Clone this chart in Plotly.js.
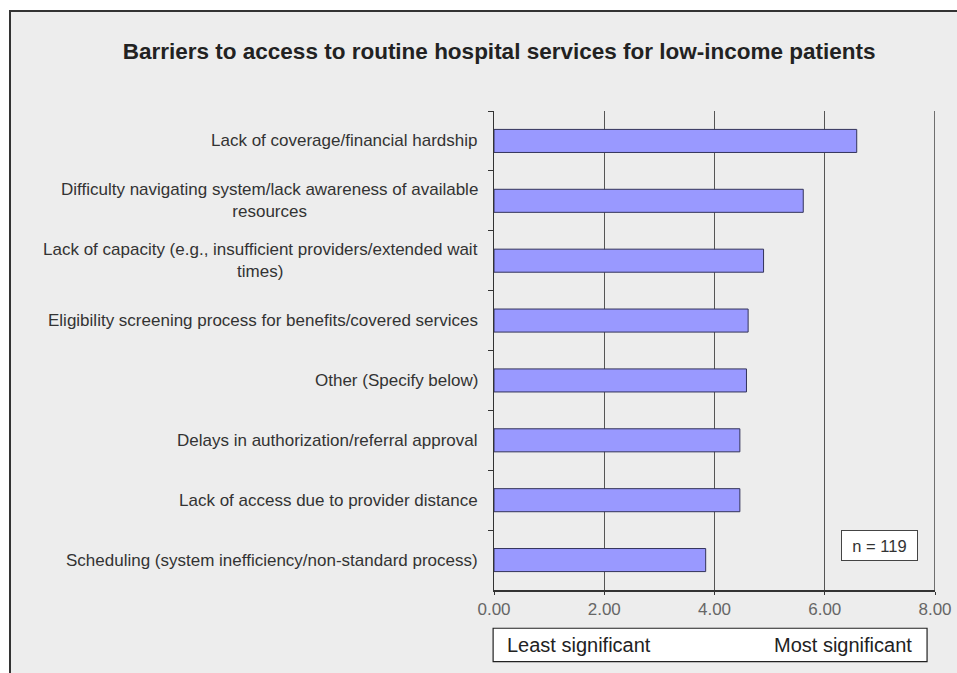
<!DOCTYPE html>
<html>
<head>
<meta charset="utf-8">
<script src="https://cdn.plot.ly/plotly-3.0.1.min.js"></script>
<style>
  html, body { margin: 0; padding: 0; background: #ffffff; width: 957px; height: 673px; overflow: hidden; }
  #frame { position: absolute; left: 9px; top: 10px; width: 946px; height: 661px;
           border-left: 2px solid #333; border-top: 2px solid #333; background: #EDEDED; }
  #chart { width: 946px; height: 661px; }
</style>
</head>
<body>
<div id="frame"><div id="chart"></div></div>
<script>
// Categories, top to bottom
const categories = [
  "Lack of coverage/financial hardship",
  "Difficulty navigating system/lack awareness of available<br>resources",
  "Lack of capacity (e.g., insufficient providers/extended wait<br>times)",
  "Eligibility screening process for benefits/covered services",
  "Other (Specify below)",
  "Delays in authorization/referral approval",
  "Lack of access due to provider distance",
  "Scheduling (system inefficiency/non-standard process)"
];
const values = [6.58, 5.61, 4.89, 4.61, 4.58, 4.46, 4.46, 3.84];
const xTickVals = [0, 2, 4, 6, 8];
const xTickText = ["0.00", "2.00", "4.00", "6.00", "8.00"];
const titleText = "Barriers to access to routine hospital services for low-income patients";
const sampleNote = "n = 119";
const scaleLabels = ["Least significant", "Most significant"];

const FONT = "'Liberation Sans', Arial, sans-serif";

const trace = {
  type: "bar",
  orientation: "h",
  y: categories,
  x: values,
  marker: { color: "#9999FF", line: { color: "#33335A", width: 1 } },
  hoverinfo: "x+y"
};

const labelAnnotations = categories.map(c => ({
  xref: "paper", yref: "y", x: 0, y: c, xanchor: "right", yanchor: "middle",
  xshift: -14, text: c, showarrow: false, align: "center",
  font: { family: FONT, size: 17, color: "#333" }
}));

const layout = {
  width: 946, height: 661,
  margin: { l: 483.3, r: 22.3, t: 98.7, b: 83 },
  paper_bgcolor: "#EDEDED",
  plot_bgcolor: "#EDEDED",
  showlegend: false,
  bargap: 0.615,
  font: { family: FONT, color: "#333" },
  title: {
    text: "<b>" + titleText + "</b>",
    xref: "container", yref: "container", x: 0.516, y: 0.941,
    xanchor: "center", yanchor: "middle",
    font: { family: FONT, size: 22.5, color: "#222" }
  },
  xaxis: {
    range: [0, 8], tickvals: xTickVals, ticktext: xTickText,
    showgrid: true, gridcolor: "#555", gridwidth: 1.2,
    zeroline: false, showline: true, linecolor: "#333", linewidth: 1.5,
    ticks: "outside", ticklen: 3, tickcolor: "#333",
    tickfont: { family: FONT, size: 17, color: "#666" },
    fixedrange: true
  },
  yaxis: {
    type: "category", autorange: "reversed",
    showgrid: false, zeroline: false, showline: true, linecolor: "#333", linewidth: 1.5,
    ticks: "outside", ticklen: 5, tickcolor: "#333", tickson: "boundaries",
    showticklabels: false, fixedrange: true
  },
  shapes: [
    { type: "line", xref: "x", yref: "paper", x0: 8, x1: 8, y0: 0, y1: 1,
      line: { color: "#444", width: 1.5 } },
    { type: "rect", xref: "paper", yref: "paper", x0: -0.002, x1: 0.982, y0: -0.1496, y1: -0.0799,
      fillcolor: "#ffffff", line: { color: "#222", width: 1.2 } }
  ],
  annotations: labelAnnotations.concat([
    { xref: "paper", yref: "paper", x: 0.875, y: 0.0939, xanchor: "center", yanchor: "middle",
      text: sampleNote, showarrow: false, bgcolor: "#ffffff", bordercolor: "#444", borderwidth: 1,
      borderpad: 0, width: 75, height: 29,
      font: { family: FONT, size: 16.5, color: "#333" } },
    { xref: "paper", yref: "paper", x: 0.0243, y: -0.1148, xanchor: "left", yanchor: "middle",
      text: scaleLabels[0], showarrow: false, font: { family: FONT, size: 20, color: "#222" } },
    { xref: "paper", yref: "paper", x: 0.953, y: -0.1148, xanchor: "right", yanchor: "middle",
      text: scaleLabels[1], showarrow: false, font: { family: FONT, size: 20, color: "#222" } }
  ])
};

Plotly.newPlot("chart", [trace], layout, { displayModeBar: false, staticPlot: true });
</script>
</body>
</html>
